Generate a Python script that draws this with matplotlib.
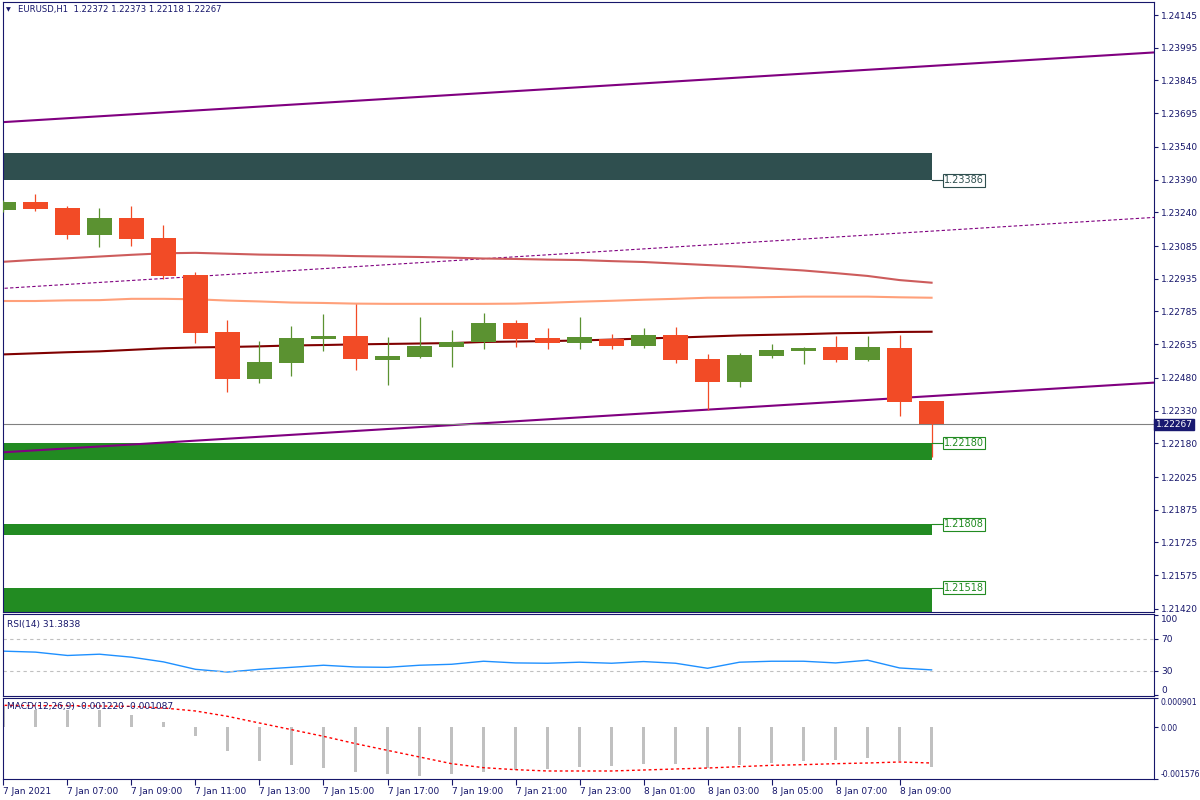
import numpy as np
import matplotlib.pyplot as plt
import matplotlib.transforms as mtransforms

# ---- data ----
opens = [1.23250, 1.23287, 1.23260, 1.23136, 1.23214, 1.23122, 1.22952, 1.22691, 1.22475, 1.22548,
         1.22659, 1.22672, 1.22562, 1.22576, 1.22622, 1.22645, 1.22732, 1.22663, 1.22640, 1.22659,
         1.22626, 1.22677, 1.22567, 1.22461, 1.22581, 1.22603, 1.22622, 1.22562, 1.22617, 1.22372]
highs = [1.23296, 1.23324, 1.23269, 1.23260, 1.23269, 1.23182, 1.22966, 1.22746, 1.22649, 1.22718,
         1.22773, 1.22819, 1.22668, 1.22759, 1.22700, 1.22778, 1.22746, 1.22709, 1.22759, 1.22681,
         1.22709, 1.22714, 1.22590, 1.22594, 1.22636, 1.22622, 1.22672, 1.22672, 1.22677, 1.22373]
lows = [1.23241, 1.23246, 1.23117, 1.23081, 1.23085, 1.22934, 1.22640, 1.22415, 1.22457, 1.22489,
        1.22603, 1.22516, 1.22447, 1.22571, 1.22530, 1.22613, 1.22622, 1.22613, 1.22613, 1.22613,
        1.22617, 1.22548, 1.22333, 1.22438, 1.22571, 1.22544, 1.22553, 1.22558, 1.22305, 1.22118]
closes = [1.23287, 1.23255, 1.23136, 1.23214, 1.23117, 1.22948, 1.22686, 1.22475, 1.22553, 1.22663,
          1.22672, 1.22567, 1.22581, 1.22626, 1.22645, 1.22732, 1.22659, 1.22640, 1.22668, 1.22626,
          1.22677, 1.22562, 1.22461, 1.22585, 1.22608, 1.22617, 1.22562, 1.22622, 1.22370, 1.22267]

ma_indianred = [1.23013, 1.23022, 1.23029, 1.23037, 1.23045, 1.23052, 1.23054, 1.23050, 1.23046, 1.23044,
                1.23042, 1.23039, 1.23037, 1.23035, 1.23032, 1.23028, 1.23026, 1.23023, 1.23021, 1.23016,
                1.23012, 1.23005, 1.22998, 1.22991, 1.22982, 1.22973, 1.22961, 1.22948, 1.22929, 1.22917]
ma_salmon = [1.22833, 1.22833, 1.22836, 1.22837, 1.22843, 1.22843, 1.22841, 1.22835, 1.22831, 1.22826,
             1.22824, 1.22821, 1.22820, 1.22820, 1.22820, 1.22820, 1.22821, 1.22825, 1.22830, 1.22834,
             1.22839, 1.22843, 1.22848, 1.22849, 1.22851, 1.22853, 1.22853, 1.22853, 1.22850, 1.22848]
ma_maroon = [1.22588, 1.22593, 1.22598, 1.22602, 1.22609, 1.22616, 1.22620, 1.22622, 1.22625, 1.22629,
             1.22631, 1.22634, 1.22636, 1.22638, 1.22640, 1.22645, 1.22647, 1.22649, 1.22652, 1.22656,
             1.22661, 1.22665, 1.22670, 1.22675, 1.22678, 1.22681, 1.22685, 1.22687, 1.22691, 1.22692]

# price channel (two anchor bars)
chan_idx = [-1, 36]
chan_upper = [1.23645, 1.23974]
chan_mid = [1.22882, 1.23217]
chan_lower = [1.22130, 1.22459]

# zones: (bottom, top, label price)
zone_start, zone_end = -1, 29
dark_zone = (1.23386, 1.23512, 1.23386)
green_zones = [(1.22103, 1.22180, 1.22180),
               (1.21761, 1.21808, 1.21808),
               (1.21380, 1.21518, 1.21518)]
last_price = 1.22267

price_ticks = [1.21420, 1.21575, 1.21725, 1.21875, 1.22025, 1.22180, 1.22330, 1.22480, 1.22635,
               1.22785, 1.22935, 1.23085, 1.23240, 1.23390, 1.23540, 1.23695, 1.23845, 1.23995, 1.24145]

rsi = [54.8, 53.6, 49.4, 51.0, 47.3, 41.4, 32.1, 28.7, 32.1, 34.6,
       37.2, 35.0, 34.6, 37.2, 38.4, 42.2, 40.1, 39.7, 41.0, 39.7,
       41.8, 39.7, 33.4, 41.0, 42.2, 42.2, 40.1, 43.5, 33.8, 31.38]

macd = [0.000660, 0.000544, 0.000524, 0.000524, 0.000391, 0.000177, -0.000251, -0.000710, -0.001015, -0.001158,
        -0.001230, -0.001372, -0.001433, -0.001474, -0.001433, -0.001352, -0.001290, -0.001280, -0.001219, -0.001189,
        -0.001107, -0.001127, -0.001230, -0.001158, -0.001087, -0.001036, -0.001005, -0.000944, -0.001015, -0.001220]
signal = [0.000677, 0.000667, 0.000667, 0.000656, 0.000646, 0.000595, 0.000504, 0.000341, 0.000136, -0.000067,
          -0.000271, -0.000495, -0.000700, -0.000903, -0.001107, -0.001230, -0.001291, -0.001331, -0.001331, -0.001331,
          -0.001301, -0.001270, -0.001240, -0.001199, -0.001158, -0.001138, -0.001107, -0.001087, -0.001056, -0.001087]

tick_idx = list(range(0, 30, 2))
tick_labels = ['7 Jan 2021', '7 Jan 07:00', '7 Jan 09:00', '7 Jan 11:00', '7 Jan 13:00', '7 Jan 15:00',
               '7 Jan 17:00', '7 Jan 19:00', '7 Jan 21:00', '7 Jan 23:00', '8 Jan 01:00', '8 Jan 03:00',
               '8 Jan 05:00', '8 Jan 07:00', '8 Jan 09:00']

# ---- style ----
NAVY = '#17176b'
RED = '#f24b26'
GREEN = '#5b9231'
FONT = 6.5
plt.rcParams['font.family'] = ['DejaVu Sans']

fig = plt.figure(figsize=(12, 8), dpi=100)
L, W = 2.5 / 1200, 1151.5 / 1200
ax = fig.add_axes([L, 188 / 800, W, 610 / 800])
ax_rsi = fig.add_axes([L, 104 / 800, W, 82 / 800])
ax_macd = fig.add_axes([L, 21 / 800, W, 81 / 800])

idx = np.arange(len(opens))
o, h, l, c = map(np.array, (opens, highs, lows, closes))
cols = np.where(c >= o, GREEN, RED)

for a in (ax, ax_rsi, ax_macd):
    a.set_xlim(-0.03, 35.95)
    for s in a.spines.values():
        s.set_color(NAVY)
        s.set_linewidth(0.8)
    a.yaxis.tick_right()
    a.tick_params(axis='y', colors=NAVY, labelcolor=NAVY, labelsize=FONT, length=3, width=0.8, pad=2)

# zones
ax.fill_between([zone_start, zone_end], dark_zone[0], dark_zone[1], color='#2f4f4f', lw=0, zorder=1)
for z in green_zones:
    ax.fill_between([zone_start, zone_end], z[0], z[1], color='#228b22', lw=0, zorder=1)

# zone labels
for z, col in [(dark_zone, '#2f4f4f')] + [(g, '#228b22') for g in green_zones]:
    ax.plot([zone_end, zone_end + 0.35], [z[2], z[2]], color=col, lw=0.8, zorder=4)
    ax.text(zone_end + 0.38, z[2], f'{z[2]:.5f}', fontsize=FONT + 0.5, color=col, va='center', ha='left',
            zorder=5, bbox=dict(boxstyle='square,pad=0.12', fc='white', ec=col, lw=0.8))

# channel
ax.plot(chan_idx, chan_upper, color='#800080', lw=1.5, zorder=2)
ax.plot(chan_idx, chan_lower, color='#800080', lw=1.5, zorder=2)
ax.plot(chan_idx, chan_mid, color='#800080', lw=0.8, ls=(0, (3, 2)), zorder=2)

# moving averages
ax.plot(idx, ma_indianred, color='#cd5c5c', lw=1.5, zorder=2)
ax.plot(idx, ma_salmon, color='#ffa07a', lw=1.5, zorder=2)
ax.plot(idx, ma_maroon, color='#800000', lw=1.5, zorder=2)

# last price line
ax.axhline(last_price, color='#808080', lw=0.8, zorder=2)

# candles
ax.vlines(idx, l, h, colors=cols, lw=0.9, zorder=3)
ax.bar(idx, np.maximum(np.abs(c - o), 0.00005), bottom=np.minimum(o, c), width=0.78,
       color=cols, lw=0, zorder=3)

ax.set_ylim(1.21406, 1.24205)
ax.set_yticks(price_ticks)
ax.set_yticklabels([f'{p:.5f}' for p in price_ticks])
ax.set_xticks([])

tr = mtransforms.blended_transform_factory(ax.transAxes, ax.transData)
ax.text(1.0015, last_price, f'{last_price:.5f}', transform=tr, fontsize=FONT, color='white',
        va='center', ha='left', zorder=6, clip_on=False,
        bbox=dict(boxstyle='square,pad=0.15', fc='#191970', ec='#191970'))

ax.text(0.003, 0.987, '\u25bc', transform=ax.transAxes, fontsize=4.5, color=NAVY, va='center')
ax.text(0.0135, 0.987, 'EURUSD,H1  1.22372 1.22373 1.22118 1.22267', transform=ax.transAxes,
        fontsize=6.1, color=NAVY, va='center')

# RSI
ax_rsi.plot(idx, rsi, color='#1e90ff', lw=1)
for lvl in (70, 30):
    ax_rsi.axhline(lvl, color='#c0c0c0', lw=0.8, ls=(0, (3, 3)))
ax_rsi.set_ylim(-1.25, 101.25)
ax_rsi.set_yticks([100, 70, 30, 0])
ax_rsi.set_yticklabels(['100', '70', '30', '0'])
lbls = ax_rsi.get_yticklabels()
lbls[0].set_va('top')
lbls[3].set_va('bottom')
ax_rsi.set_xticks([])
ax_rsi.text(0.004, 0.87, 'RSI(14) 31.3838', transform=ax_rsi.transAxes, fontsize=FONT, color=NAVY, va='center')

# MACD
ax_macd.bar(idx, macd, width=0.08, color='#c0c0c0', lw=0)
ax_macd.plot(np.concatenate(([-1], idx)), [signal[0]] + signal, color='#ff0000', lw=1, ls=(0, (2, 2)))
ax_macd.set_ylim(-0.001576, 0.000901)
ax_macd.set_yticks([0.000901, 0.0, -0.001576])
ax_macd.set_yticklabels(['0.000901', '0.00', '-0.001576'])
ax_macd.tick_params(axis='y', labelsize=5.6, pad=1.5)
mlbls = ax_macd.get_yticklabels()
mlbls[0].set_va('top')
mlbls[2].set_va('bottom')
ax_macd.text(0.004, 0.89, 'MACD(12,26,9) -0.001220 -0.001087', transform=ax_macd.transAxes,
             fontsize=FONT, color=NAVY, va='center')

ax_macd.set_xticks(tick_idx)
ax_macd.set_xticklabels(tick_labels)
ax_macd.tick_params(axis='x', colors=NAVY, labelcolor=NAVY, labelsize=FONT, length=4, width=0.8, pad=2)
for t in ax_macd.get_xticklabels():
    t.set_ha('left')

fig.savefig('out.png', dpi=100)
